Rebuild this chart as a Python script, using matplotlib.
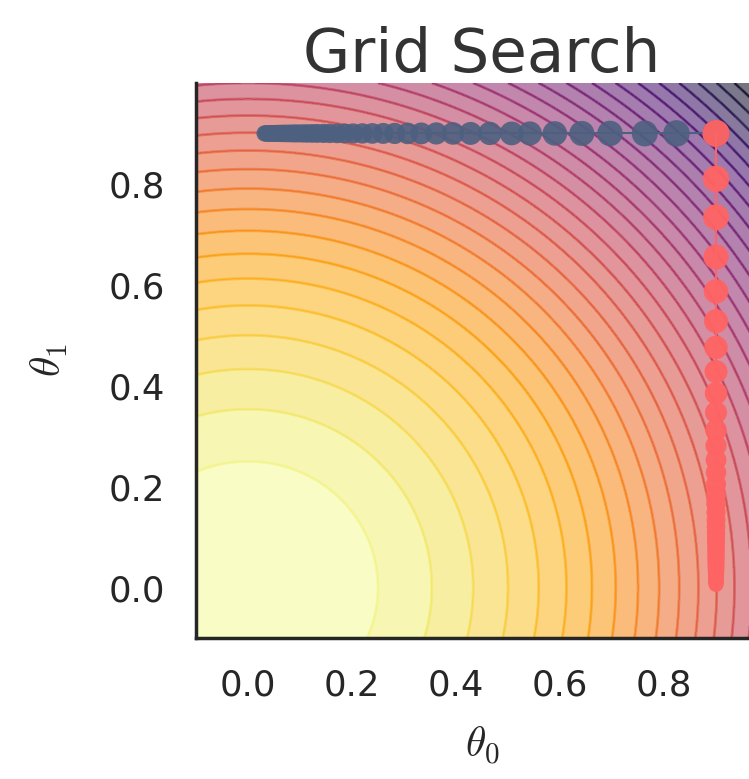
import numpy as np
import matplotlib
matplotlib.use("Agg")
import matplotlib.pyplot as plt
import seaborn as sns

sns.set_style("white")
plt.rcParams["mathtext.fontset"] = "cm"
plt.rcParams["font.family"] = ["DejaVu Sans"]

# loss surface J = theta0^2 + theta1^2 on the plotted window
theta0_lim = (-0.1, 1.0)
theta1_lim = (-0.1, 1.0)
level_step = 0.0625
loss_max = 2.0

# first sweep: theta0 moves along theta1 = 0.9
row_theta1 = 0.9
row_theta0 = [0.032, 0.035, 0.038, 0.041, 0.045, 0.049, 0.053, 0.058, 0.063,
              0.068, 0.074, 0.081, 0.088, 0.095, 0.104, 0.113, 0.123, 0.133,
              0.145, 0.157, 0.171, 0.186, 0.202, 0.220, 0.239, 0.260, 0.282,
              0.307, 0.333, 0.362, 0.394, 0.428, 0.465, 0.507, 0.542, 0.590,
              0.642, 0.696, 0.763, 0.824, 0.900]

# second sweep: theta1 moves along theta0 = 0.9
col_theta0 = 0.9
col_theta1 = [0.900, 0.810, 0.734, 0.655, 0.587, 0.528, 0.476, 0.428, 0.385,
              0.347, 0.312, 0.281, 0.253, 0.228, 0.205, 0.184, 0.166, 0.149,
              0.134, 0.121, 0.109, 0.098, 0.088, 0.079, 0.071, 0.064, 0.058,
              0.052, 0.047, 0.042, 0.038, 0.034, 0.031, 0.028, 0.025, 0.022,
              0.020, 0.018, 0.016, 0.014, 0.012, 0.010, 0.008, 0.006]

blue = "#4d6080"
red = "#ff6464"
ink = "0.15"


def marker_area(values):
    # markers shrink as the moving coordinate heads to zero
    d = 10.0 + 10.0 * np.sqrt(np.asarray(values))
    return d ** 2


fig = plt.figure(figsize=(7.49, 7.79), dpi=100)
ax = fig.add_axes([0.2617, 0.181, 0.7637, 0.7125])

t0 = np.linspace(theta0_lim[0], theta0_lim[1], 400)
t1 = np.linspace(theta1_lim[0], theta1_lim[1], 400)
T0, T1 = np.meshgrid(t0, t1)
J = T0 ** 2 + T1 ** 2
levels = np.arange(0, loss_max + level_step / 2, level_step)

ax.contourf(T0, T1, J, levels=levels, cmap="inferno_r", alpha=0.55)
ax.contour(T0, T1, J, levels=levels, cmap="inferno_r", alpha=0.6, linewidths=2)

xs = np.asarray(row_theta0)
ys = np.full(len(xs), row_theta1)
ax.plot(xs, ys, color=blue, lw=1.5, zorder=3)
ax.scatter(xs, ys, s=marker_area(xs), color=blue, alpha=0.9, lw=0, zorder=4)

ys = np.asarray(col_theta1)
xs = np.full(len(ys), col_theta0)
ax.plot(xs, ys, color=red, lw=1.5, zorder=5)
ax.scatter(xs, ys, s=marker_area(ys), color=red, alpha=0.95, lw=0, zorder=6)

ax.set_xlim(*theta0_lim)
ax.set_ylim(*theta1_lim)
ax.set_xticks([0.0, 0.2, 0.4, 0.6, 0.8])
ax.set_yticks([0.0, 0.2, 0.4, 0.6, 0.8])
ax.tick_params(labelsize=25.5, pad=22, length=0, colors=ink)

ax.set_xlabel(r"$\theta_0$", fontsize=30, color=ink, labelpad=16)
ax.set_ylabel(r"$\theta_1$", fontsize=30, color=ink, labelpad=28)
ax.set_title("Grid Search", fontsize=44, color="0.2", pad=8)

for side in ["top", "right"]:
    ax.spines[side].set_visible(False)
for side in ["left", "bottom"]:
    ax.spines[side].set_color(ink)
    ax.spines[side].set_linewidth(2.5)

fig.savefig("out.png", dpi=100)
